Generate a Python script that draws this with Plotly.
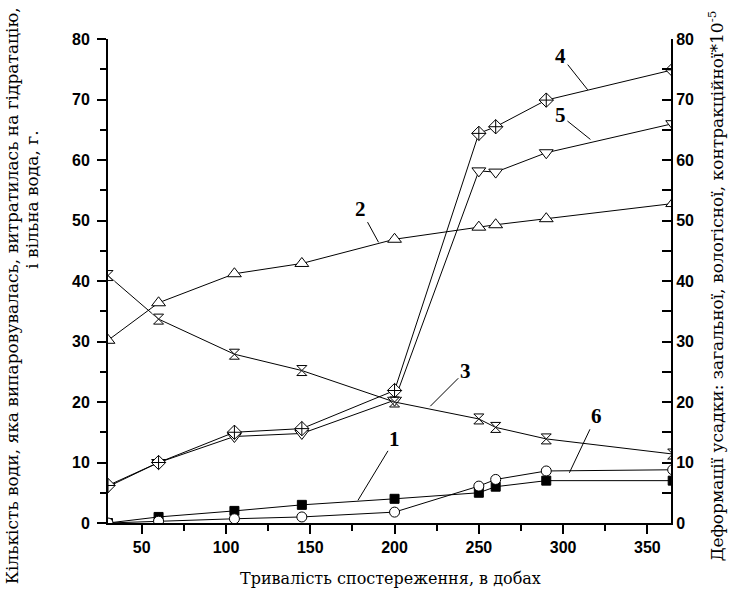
import plotly.graph_objects as go

# ---- data ----
days = [30, 60, 105, 145, 200, 250, 260, 290, 365]
s1 = [0.0, 1.0, 2.0, 3.0, 4.0, 5.0, 6.0, 7.0, 7.0]
s2 = [30.2, 36.4, 41.2, 42.9, 46.9, 48.9, 49.3, 50.3, 52.8]
s3 = [40.9, 33.7, 27.9, 25.2, 20.0, 17.2, 15.8, 13.9, 11.4]
s4 = [6.2, 10.0, 15.0, 15.6, 21.9, 64.4, 65.5, 69.9, 74.9]
s5 = [6.0, 10.0, 14.3, 14.8, 20.3, 58.2, 58.0, 61.2, 66.0]
s6 = [0.0, 0.3, 0.7, 1.0, 1.8, 6.1, 7.2, 8.6, 8.8]

label_text = ["1", "2", "3", "4", "5", "6"]
label_x = [178.3, 190.5, 221.2, 314.6, 316.2, 303.7]
label_y = [3.75, 46.4, 19.3, 71.6, 63.4, 8.3]
label_ax = [37, -18, 35, -27, -30, 27]
label_ay = [-61, -33, -35, -34, -24, -57]

x_title = "Тривалість спостереження, в добах"
yl_title1 = "Кількість води, яка випаровувалась, витратилась на гідратацію,"
yl_title2 = "і вільна вода, г."
yr_title = "Деформації усадки: загальної, вологісної, контракційної*10<sup>-5</sup>"

fig = go.Figure()

def add(y, symbol, size, fill="white", yaxis="y"):
    fig.add_trace(go.Scatter(
        x=days, y=y, mode="lines+markers", yaxis=yaxis,
        line=dict(color="black", width=1),
        marker=dict(symbol=symbol, size=size, color=fill,
                    line=dict(color="black", width=1)),
        showlegend=False, cliponaxis=True))

add(s2, "triangle-up", 12)
add(s5, "triangle-down", 12)
add(s4, "diamond-cross", 11)
add(s3, "x-thin-open", 13)
fig.add_trace(go.Scatter(
    x=days, y=s3, mode="markers",
    marker=dict(symbol="hourglass-open", size=10, color="black",
                line=dict(color="black", width=1)),
    showlegend=False))
add(s1, "square", 9, fill="black")
add(s6, "circle", 10)

annotations = []
for t, x, y, ax, ay in zip(label_text, label_x, label_y, label_ax, label_ay):
    annotations.append(dict(
        x=x, y=y, xref="x", yref="y", text="<b>" + t + "</b>", showarrow=True,
        arrowhead=0, arrowwidth=1, arrowcolor="black", ax=ax, ay=ay,
        standoff=0, startstandoff=0,
        font=dict(family="Liberation Serif", size=21, color="black")))

f_x = dict(family="DejaVu Serif", size=16, color="black")
f_y = dict(family="DejaVu Serif", size=17, color="black")
annotations += [
    dict(text=x_title, xref="paper", yref="paper", x=0.501, y=-0.114,
         xanchor="center", yanchor="middle", showarrow=False, font=f_x),
    dict(text=yl_title1, xref="paper", yref="paper", x=-0.171, y=0.470,
         xanchor="center", yanchor="middle", showarrow=False,
         textangle=-90, font=f_y),
    dict(text=yl_title2, xref="paper", yref="paper", x=-0.134, y=0.667,
         xanchor="center", yanchor="middle", showarrow=False,
         textangle=-90, font=f_y),
    dict(text=yr_title, xref="paper", yref="paper", x=1.079, y=0.490,
         xanchor="center", yanchor="middle", showarrow=False,
         textangle=-90, font=f_y),
]

tickfont = dict(family="Liberation Sans", size=16, color="black", weight=700)

fig.update_layout(
    width=729, height=601,
    margin=dict(l=108, r=58, t=39, b=78),
    paper_bgcolor="white", plot_bgcolor="white",
    annotations=annotations,
    xaxis=dict(range=[30, 364], tick0=0, dtick=50, ticks="outside",
               ticklen=9, tickwidth=1.5, tickcolor="black",
               showline=True, linecolor="black", linewidth=2,
               showgrid=False, zeroline=False, tickfont=tickfont,
               minor=dict(dtick=25, tick0=0, ticks="outside", ticklen=6,
                          tickwidth=1.5, tickcolor="black", showgrid=False)),
    yaxis=dict(range=[0, 80], dtick=10, ticks="outside",
               ticklen=9, tickwidth=1.5, tickcolor="black",
               showline=True, linecolor="black", linewidth=2,
               showgrid=False, zeroline=False, tickfont=tickfont,
               ticklabelstandoff=4,
               minor=dict(dtick=5, ticks="outside", ticklen=6,
                          tickwidth=1.5, tickcolor="black", showgrid=False)),
    yaxis2=dict(range=[0, 80], dtick=10, ticks="inside", side="right",
                overlaying="y", ticklen=9, tickwidth=1.5, tickcolor="black",
                showline=True, linecolor="black", linewidth=2,
                showgrid=False, zeroline=False, tickfont=tickfont,
                minor=dict(dtick=5, ticks="inside", ticklen=9,
                           tickwidth=1.5, tickcolor="black", showgrid=False)),
)
# invisible trace so the right axis is drawn
fig.add_trace(go.Scatter(x=[days[0]], y=[s1[0]], yaxis="y2", mode="markers",
                         marker=dict(opacity=0), showlegend=False,
                         hoverinfo="skip"))

fig.write_html("out.html", config={"displayModeBar": False},
               post_script="document.body.style.margin='0';"
                           "document.body.style.padding='0';"
                           "document.body.style.overflow='hidden';")
